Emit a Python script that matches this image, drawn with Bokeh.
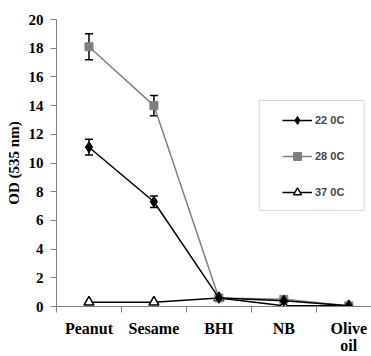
from bokeh.plotting import figure
from bokeh.models import (ColumnDataSource, FixedTicker, Whisker, TeeHead, Legend,
                          LegendItem, Range1d, BoxAnnotation)
from bokeh.embed import file_html
from bokeh.resources import INLINE
import numpy as np

categories = ["Peanut", "Sesame", "BHI", "NB", "Olive\noil"]
series_names = ["22 0C", "28 0C", "37 0C"]
od_22 = [11.1, 7.3, 0.6, 0.4, 0.05]
err_22 = [0.55, 0.4, 0.0, 0.0, 0.0]
od_28 = [18.1, 14.0, 0.6, 0.5, 0.05]
err_28 = [0.9, 0.7, 0.0, 0.0, 0.0]
od_37 = [0.3, 0.3, 0.6, 0.05, 0.05]
y_ticks = [0, 2, 4, 6, 8, 10, 12, 14, 16, 18, 20]

xpos = list(np.arange(len(categories)) + 0.5)

p = figure(width=371, height=356, output_backend="svg", toolbar_location=None,
           x_range=Range1d(0, 4.85), y_range=Range1d(0, 20),
           min_border_left=56, min_border_top=19, min_border_bottom=50, min_border_right=0)
p.grid.visible = False
p.outline_line_color = None
p.background_fill_color = "white"

AX = "#808080"
SERIF = "Times New Roman"

# x axis
p.xaxis.ticker = FixedTicker(ticks=xpos, minor_ticks=[0, 1, 2, 3, 4])
p.xaxis.major_label_overrides = {float(x): c for x, c in zip(xpos, categories)}
p.xaxis.major_tick_out = 0
p.xaxis.major_tick_in = 0
p.xaxis.minor_tick_out = 6
p.xaxis.minor_tick_in = 0
p.xaxis.minor_tick_line_color = AX
p.xaxis.axis_line_color = AX
p.xaxis.major_label_text_font = SERIF
p.xaxis.major_label_text_font_style = "bold"
p.xaxis.major_label_text_font_size = "16px"
p.xaxis.major_label_text_line_height = 1.0
p.xaxis.major_label_text_color = "black"
p.xaxis.major_label_standoff = 7

# y axis
p.yaxis.ticker = FixedTicker(ticks=y_ticks, minor_ticks=[])
p.yaxis.major_tick_out = 6
p.yaxis.major_tick_in = 0
p.yaxis.major_tick_line_color = AX
p.yaxis.axis_line_color = AX
p.yaxis.major_label_text_font = SERIF
p.yaxis.major_label_text_font_style = "bold"
p.yaxis.major_label_text_font_size = "15px"
p.yaxis.major_label_text_color = "black"
p.yaxis.major_label_standoff = 7
p.yaxis.axis_label = "OD (535 nm)"
p.yaxis.axis_label_text_font = SERIF
p.yaxis.axis_label_text_font_style = "bold"
p.yaxis.axis_label_text_font_size = "15px"
p.yaxis.axis_label_text_color = "black"
p.yaxis.axis_label_standoff = 4

# error bars
def add_err(vals, errs):
    idx = [i for i, e in enumerate(errs) if e > 0]
    src = ColumnDataSource(dict(
        x=[xpos[i] for i in idx],
        lo=[vals[i] - errs[i] for i in idx],
        hi=[vals[i] + errs[i] for i in idx]))
    w = Whisker(source=src, base="x", lower="lo", upper="hi", line_color="black",
                line_width=1.5,
                upper_head=TeeHead(size=8, line_color="black", line_width=1.5),
                lower_head=TeeHead(size=8, line_color="black", line_width=1.5))
    p.add_layout(w)

add_err(od_28, err_28)
add_err(od_22, err_22)

l37 = p.line(xpos, od_37, line_color="black", line_width=1.5)
s37 = p.scatter(xpos, od_37, marker="triangle", size=10, fill_color="white",
                line_color="black", line_width=1.5)
l28 = p.line(xpos, od_28, line_color=AX, line_width=1.5)
s28 = p.scatter(xpos, od_28, marker="square", size=8, fill_color=AX, line_color=AX)
l22 = p.line(xpos, od_22, line_color="black", line_width=1.5)
s22 = p.scatter(xpos, od_22, marker="diamond", size=11, fill_color="black",
                line_color="black")

# legend frame
box = BoxAnnotation(left=3.123, right=4.738, bottom=6.69, top=14.355,
                    fill_color="white", fill_alpha=1.0, line_color=AX, line_width=1)
p.add_layout(box)

legend = Legend(items=[
    LegendItem(label=series_names[0], renderers=[l22, s22]),
    LegendItem(label=series_names[1], renderers=[l28, s28]),
    LegendItem(label=series_names[2], renderers=[l37, s37]),
], location=(226, 104), padding=0, margin=0, spacing=16,
    glyph_width=30, glyph_height=20, label_height=20, label_standoff=3,
    border_line_alpha=0, background_fill_alpha=0,
    label_text_font="Liberation Sans", label_text_font_style="bold",
    label_text_font_size="11px")
p.add_layout(legend, "center")

open("out.html", "w").write(file_html(p, INLINE))
